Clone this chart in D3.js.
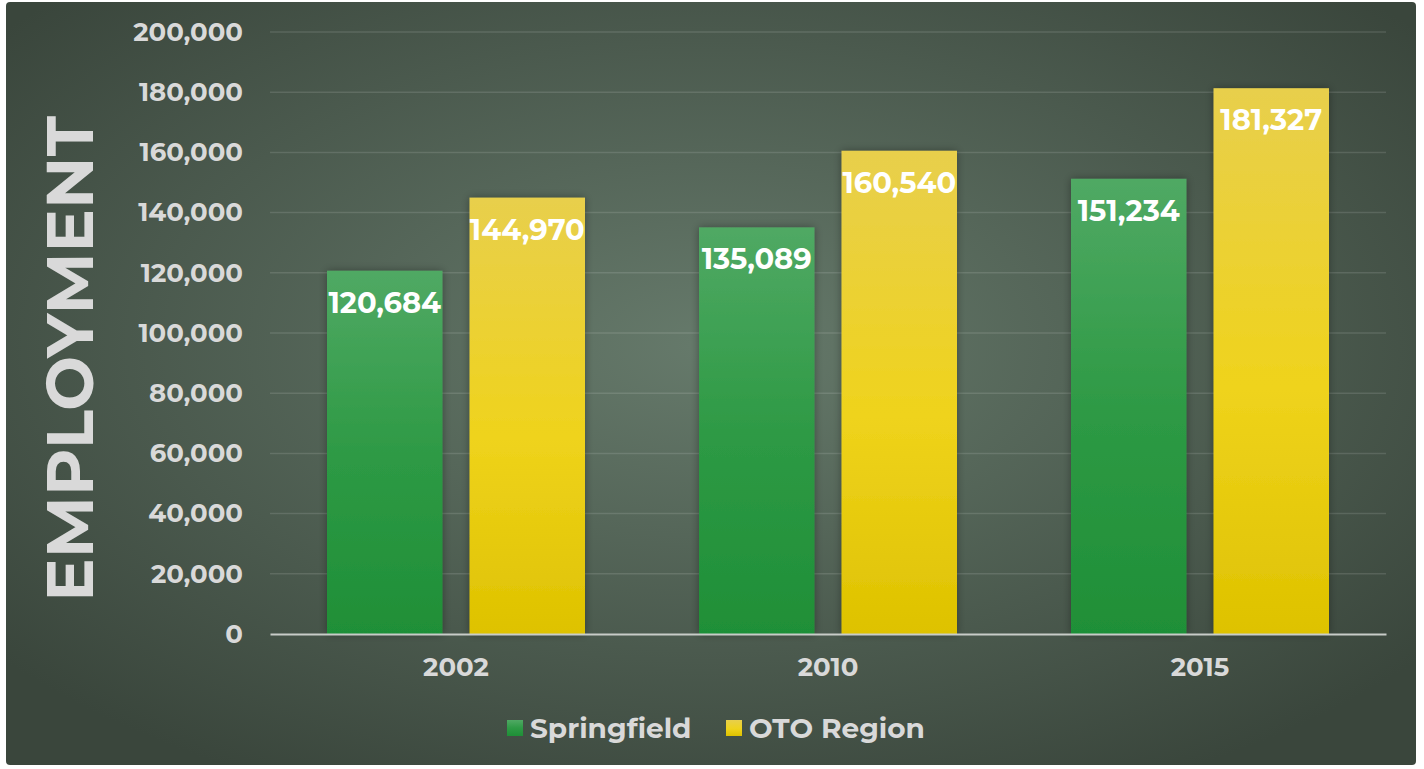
<!DOCTYPE html>
<html>
<head>
<meta charset="utf-8">
<script src="https://cdn.jsdelivr.net/npm/d3@7"></script>
<style>
  body { margin: 0; background: #ffffff; }
  svg { display: block; }
</style>
</head>
<body>
<div id="chart"></div>
<script>
// data
var years = ["2002", "2010", "2015"];
var seriesNames = ["Springfield", "OTO Region"];
var springfield = [120684, 135089, 151234];
var otoRegion = [144970, 160540, 181327];
var yTicks = [0, 20000, 40000, 60000, 80000, 100000, 120000, 140000, 160000, 180000, 200000];

var W = 1424, H = 769;
var margin = {top: 32, right: 38, bottom: 135, left: 270},
    width = W - margin.left - margin.right,
    height = H - margin.top - margin.bottom;

var fontFam = "Montserrat, 'Open Sans', sans-serif";

var svg = d3.select("#chart").append("svg")
    .attr("width", W)
    .attr("height", H);

var defs = svg.append("defs");

var bg = defs.append("radialGradient").attr("id", "bgGrad")
    .attr("cx", "50%").attr("cy", "45%").attr("r", "65%");
bg.append("stop").attr("offset", "0%").attr("stop-color", "#667a6b");
bg.append("stop").attr("offset", "100%").attr("stop-color", "#3a463c");

var gGreen = defs.append("linearGradient").attr("id", "greenGrad")
    .attr("x1", 0).attr("x2", 0).attr("y1", 0).attr("y2", 1);
gGreen.append("stop").attr("offset", "0%").attr("stop-color", "#50a964");
gGreen.append("stop").attr("offset", "50%").attr("stop-color", "#2e9a45");
gGreen.append("stop").attr("offset", "100%").attr("stop-color", "#1f8f37");

var gYellow = defs.append("linearGradient").attr("id", "yellowGrad")
    .attr("x1", 0).attr("x2", 0).attr("y1", 0).attr("y2", 1);
gYellow.append("stop").attr("offset", "0%").attr("stop-color", "#e8cf4c");
gYellow.append("stop").attr("offset", "55%").attr("stop-color", "#efd31c");
gYellow.append("stop").attr("offset", "100%").attr("stop-color", "#dec200");

var shadow = defs.append("filter").attr("id", "barShadow")
    .attr("x", "-20%").attr("y", "-10%").attr("width", "140%").attr("height", "120%");
shadow.append("feDropShadow")
    .attr("dx", 0).attr("dy", 0).attr("stdDeviation", 4)
    .attr("flood-color", "#000").attr("flood-opacity", 0.35);

// panel background
svg.append("rect")
    .attr("x", 6).attr("y", 2)
    .attr("width", 1410).attr("height", 763)
    .attr("rx", 4)
    .attr("fill", "url(#bgGrad)");

var g = svg.append("g")
    .attr("transform", "translate(" + margin.left + "," + margin.top + ")");

var x0 = d3.scaleBand().domain(years).range([0, width]).paddingInner(0).paddingOuter(0);
var x1 = d3.scaleBand().domain(seriesNames).range([57, x0.bandwidth() - 57]).paddingInner(0.19);
var y = d3.scaleLinear().domain([0, 200000]).range([height, 0]);

// grid lines
g.append("g")
    .selectAll("line")
    .data(yTicks.slice(1))
    .join("line")
    .attr("x1", 0).attr("x2", width)
    .attr("y1", d => y(d)).attr("y2", d => y(d))
    .attr("stroke", "#ffffff").attr("stroke-opacity", 0.12)
    .attr("stroke-width", 1.5);

// y axis labels
var yAxis = g.append("g")
    .call(d3.axisLeft(y).tickValues(yTicks).tickFormat(d3.format(",")).tickSize(0).tickPadding(27));
yAxis.select(".domain").remove();
yAxis.selectAll("text")
    .attr("fill", "#d9d9d9")
    .attr("font-size", "26px")
    .attr("font-weight", "bold")
    .attr("font-family", fontFam);

var seriesData = [springfield, otoRegion];
var fills = ["url(#greenGrad)", "url(#yellowGrad)"];

var groups = g.selectAll(".yearGroup")
    .data(years)
    .join("g")
    .attr("class", "yearGroup")
    .attr("transform", d => "translate(" + x0(d) + ",0)");

var bars = groups.selectAll(".bar")
    .data((d, i) => seriesNames.map((s, j) => ({series: s, j: j, value: seriesData[j][i]})))
    .join("g")
    .attr("class", "bar");

bars.append("rect")
    .attr("x", d => x1(d.series))
    .attr("y", d => y(d.value))
    .attr("width", x1.bandwidth())
    .attr("height", d => height - y(d.value))
    .attr("fill", d => fills[d.j])
    .attr("filter", "url(#barShadow)");

bars.append("text")
    .attr("x", d => x1(d.series) + x1.bandwidth() / 2)
    .attr("y", d => y(d.value) + 42)
    .attr("text-anchor", "middle")
    .attr("fill", "#ffffff")
    .attr("font-size", "29px")
    .attr("font-weight", "bold")
    .attr("font-family", fontFam)
    .text(d => d3.format(",")(d.value));

// x axis
var xAxis = g.append("g")
    .attr("transform", "translate(0," + height + ")")
    .call(d3.axisBottom(x0).tickSize(0).tickPadding(24));
xAxis.select(".domain")
    .attr("stroke", "#c8ccc8").attr("stroke-width", 2);
xAxis.selectAll("text")
    .attr("fill", "#d9d9d9")
    .attr("font-size", "26px")
    .attr("font-weight", "bold")
    .attr("font-family", fontFam);

// y axis title
svg.append("text")
    .attr("transform", "translate(93,359) rotate(-90)")
    .attr("text-anchor", "middle")
    .attr("fill", "#d9d9d9")
    .attr("font-size", "65px")
    .attr("font-weight", "bold")
    .attr("font-family", fontFam)
    .text("EMPLOYMENT");

// legend
var legend = svg.append("g").attr("transform", "translate(507,728)");
var legendX = [0, 219];
seriesNames.forEach(function (s, i) {
    var lg = legend.append("g").attr("transform", "translate(" + legendX[i] + ",0)");
    lg.append("rect")
        .attr("x", 0).attr("y", -8)
        .attr("width", 16).attr("height", 16)
        .attr("fill", fills[i]);
    lg.append("text")
        .attr("x", 23).attr("y", 0)
        .attr("dy", "0.35em")
        .attr("fill", "#d9d9d9")
        .attr("font-size", "28px")
        .attr("font-weight", "bold")
        .attr("font-family", fontFam)
        .text(s);
});
</script>
</body>
</html>
